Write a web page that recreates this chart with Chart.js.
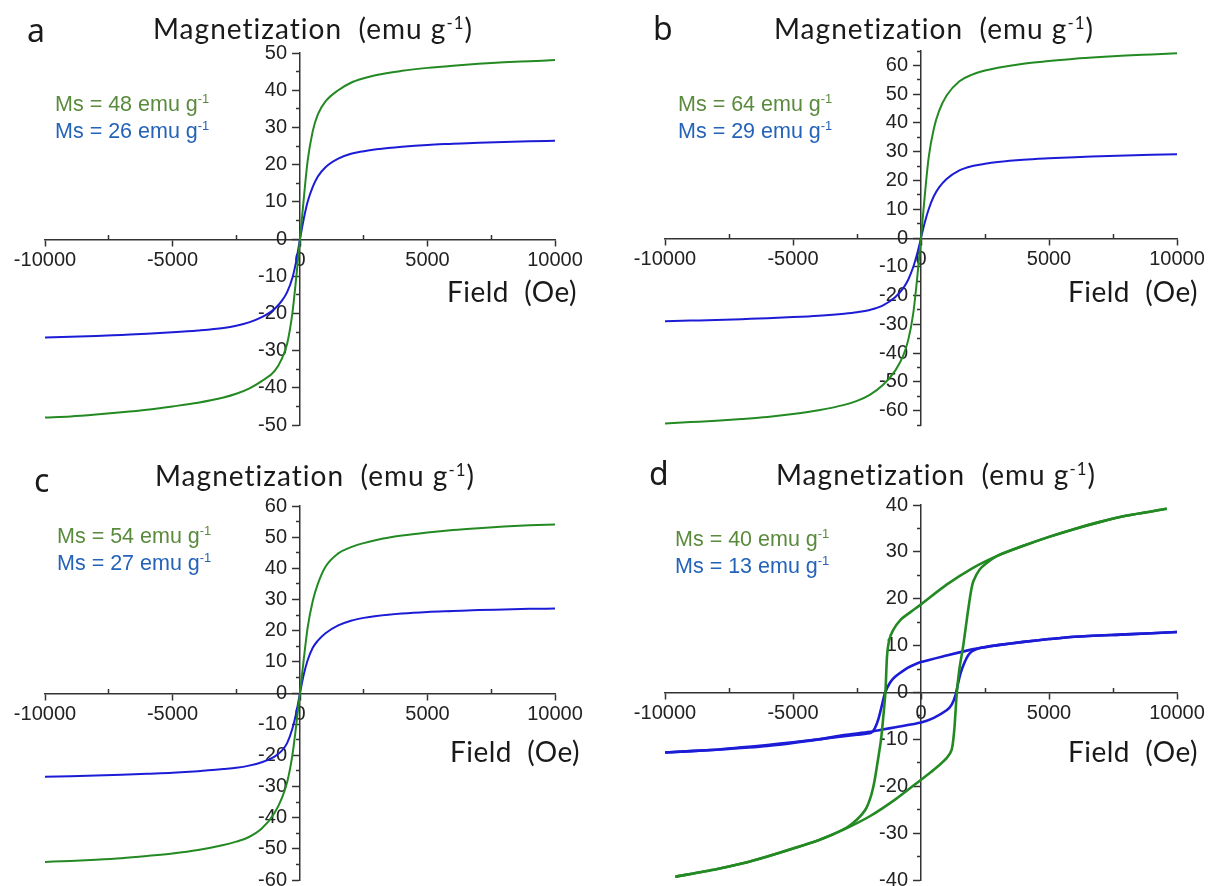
<!DOCTYPE html>
<html><head><meta charset="utf-8">
<script src="https://cdn.jsdelivr.net/npm/chart.js@4.4.1/dist/chart.umd.min.js"></script>
<style>
html,body{margin:0;padding:0;background:#fff;width:1210px;height:886px;overflow:hidden;position:relative}
canvas{position:absolute}
.t{position:absolute;white-space:nowrap;color:#1a1a1a;line-height:1.2;font-variant-ligatures:none;font-feature-settings:"liga" 0}
.lt{font-family:'Noto Sans',sans-serif;font-size:32px}
.title{font-family:Lato,'Noto Sans',sans-serif;font-size:28px}
.fld{font-family:Lato,'Noto Sans',sans-serif;font-size:28px}
.ms{font-family:'Liberation Sans',Arial,sans-serif;font-size:21.5px}
sup{font-size:0.6em;vertical-align:0.6em;line-height:0}
.probe{display:inline-block;width:0;height:0;vertical-align:baseline}
</style></head>
<body>
<script>
// ---------- data ----------
const fieldABC = [-10000,-9000,-8000,-7000,-6000,-5000,-4000,-3000,-2500,-2000,-1500,-1000,-700,-500,-300,-150,0,150,300,500,700,1000,1500,2000,2500,3000,4000,5000,6000,7000,8000,9000,10000];

const aGreen = [-48,-47.7,-47.2,-46.6,-45.9,-45,-44,-42.6,-41.6,-40.2,-38.2,-35.5,-32,-28,-20,-10.5,0,11,21,29,33.5,37,40,42,43.2,44.1,45.2,46,46.6,47.1,47.5,47.8,48.1];
const aBlue  = [-26.5,-26.3,-26.1,-25.8,-25.5,-25.1,-24.6,-23.9,-23.3,-22.4,-21,-18.8,-16.5,-14.2,-10.5,-6,0,5.5,10,14,16.8,19.3,21.6,22.9,23.6,24.1,24.8,25.3,25.6,25.9,26.1,26.3,26.4];

const bGreen = [-64.5,-64,-63.5,-62.9,-62.2,-61.2,-59.9,-58,-56.6,-54.5,-51.2,-46,-41,-35.5,-26,-14,0,15,28,38,44,49.5,54.5,56.8,58.2,59.2,60.6,61.5,62.3,62.9,63.4,63.8,64.2];
const bBlue  = [-28.9,-28.7,-28.5,-28.2,-27.9,-27.5,-27,-26.3,-25.8,-25,-23.5,-20.5,-17.5,-14.5,-10,-5.5,0,5.5,10,14.5,17.5,20.5,23.5,25,25.8,26.4,27.2,27.7,28.1,28.4,28.7,28.9,29.1];

const cGreen = [-54.2,-53.9,-53.5,-53,-52.3,-51.5,-50.4,-48.8,-47.7,-46.2,-43.5,-38.5,-33.5,-28.5,-20,-10.5,0,11,21,29.5,35,40.5,44.8,46.8,48.1,49.1,50.5,51.5,52.3,52.9,53.4,53.8,54.1];
const cBlue  = [-26.9,-26.7,-26.5,-26.2,-25.9,-25.6,-25.1,-24.4,-24,-23.3,-22.2,-20.4,-18.4,-16,-11.5,-6.5,0,6,10.5,14.5,16.8,19.2,21.7,23.2,24.1,24.7,25.5,26,26.3,26.6,26.8,27,27.1];

// panel d: hysteresis loops (descending branch, then ascending branch)
const dGreenDownH = [9600,8000,7000,6000,5000,4000,3000,2000,1000,0,-400,-800,-1100,-1250,-1330,-1390,-1470,-1560,-1700,-1820,-1950,-2150,-2500,-2900,-3500,-4000,-5000,-6000,-7000,-8000,-9600];
const dGreenDownM = [39.2,37.7,36.4,34.9,33.2,31.3,29.2,26.5,23,18.8,17.2,15.5,13.2,11,7.5,0,-5,-10,-15,-19,-22,-24.8,-27.1,-28.8,-30.4,-31.5,-33.3,-35,-36.5,-37.7,-39.3];
const dGreenUpH = [-9600,-8000,-7000,-6000,-5000,-4000,-3000,-2000,-1000,0,500,1000,1200,1300,1350,1400,1500,1650,1800,1950,2050,2300,2630,3000,4000,5000,6000,7000,8000,9600];
const dGreenUpM = [-39.3,-37.7,-36.5,-35,-33.3,-31.5,-29.2,-26.4,-22.8,-18.6,-16.5,-14,-12.2,-8,-4,0,5,10,16,21.5,23.8,26.3,27.9,29.2,31.3,33.2,34.9,36.4,37.7,39.2];
const dBlueDownH = [10000,8000,6000,5000,4000,3000,2300,2000,1000,0,-400,-600,-1000,-1200,-1400,-1500,-1650,-1800,-1950,-2500,-3000,-4000,-5000,-6000,-7000,-8000,-10000];
const dBlueDownM = [12.9,12.4,11.9,11.4,10.8,10.1,9.5,9.2,7.9,6.5,5.6,5,3.4,2.2,0,-2.1,-5.4,-7.6,-8.6,-9,-9.3,-10,-10.6,-11.2,-11.7,-12.2,-12.8];
const dBlueUpH = [-10000,-8000,-6000,-4000,-3000,-2000,-1500,-1000,0,500,1000,1200,1350,1450,1550,1700,1850,2000,2300,3000,4000,5000,6000,8000,10000];
const dBlueUpM = [-12.8,-12.2,-11.4,-10,-9.1,-8.4,-7.9,-7.4,-6.4,-5.4,-3.8,-2.6,-0.5,2,4.2,6.4,8,8.8,9.5,10.1,10.8,11.4,11.9,12.4,12.9];

// tick labels
const xTicks = [-10000,-5000,0,5000,10000];
const xMinorTicks = [-7500,-2500,2500,7500];
const yTicksA = [-50,-40,-30,-20,-10,0,10,20,30,40,50];
const yMinorA = [-45,-35,-25,-15,-5,5,15,25,35,45];
const yTicksB = [-60,-50,-40,-30,-20,-10,0,10,20,30,40,50,60];
const yMinorB = [-65,-55,-45,-35,-25,-15,-5,5,15,25,35,45,55,65];
const yTicksC = [-60,-50,-40,-30,-20,-10,0,10,20,30,40,50,60];
const yMinorC = [-55,-45,-35,-25,-15,-5,5,15,25,35,45,55];
const yTicksD = [-40,-30,-20,-10,0,10,20,30,40];
const yMinorD = [-35,-25,-15,-5,5,15,25,35];
const yLimits = {a:50, b:65, c:60, d:40};
const msGreen = {a:48, b:64, c:54, d:40};
const msBlue  = {a:26, b:29, c:27, d:13};

// ---------- helpers ----------
const GREEN = '#238a23', BLUE = '#1c1cd6', AXIS = '#333';
function pts(xs, ys){ return xs.map((x,i)=>({x, y:ys[i]})); }
function ds(xs, ys, color, w, smooth){
  return {data: pts(xs, ys), borderColor: color, backgroundColor: color, showLine: true,
          pointRadius: 0, borderWidth: w, fill: false,
          tension: smooth ? 0 : 0.25, cubicInterpolationMode: smooth ? 'monotone' : 'default'};
}
function setTicks(list){ return s => { s.ticks = list.map(v => ({value: v})); }; }
function makePanel(left, top, w, h, area, yMax, yMajor, yMinor, datasets){
  const c = document.createElement('canvas');
  c.width = w; c.height = h; c.style.left = left + 'px'; c.style.top = top + 'px';
  document.body.appendChild(c);
  const tickFont = {family: "'Liberation Sans', Arial, sans-serif", size: 20};
  new Chart(c, {
    type: 'scatter',
    data: {datasets},
    options: {
      responsive: false, animation: false, devicePixelRatio: 1,
      layout: {padding: {left: area.l - left, right: left + w - area.r, top: area.t - top, bottom: top + h - area.b}},
      plugins: {legend: {display: false}, tooltip: {enabled: false}},
      scales: {
        x: {type: 'linear', position: 'center', min: -10000, max: 10000, afterBuildTicks: setTicks(xTicks),
            ticks: {callback: v => String(v), font: tickFont, color: '#222', padding: 3, maxRotation: 0, autoSkip: false},
            grid: {drawOnChartArea: false, drawTicks: true, tickLength: 6, tickColor: AXIS, tickWidth: 1.5},
            border: {display: true, color: AXIS, width: 1.5}},
        xm: {type: 'linear', axis: 'x', position: 'center', min: -10000, max: 10000, afterBuildTicks: setTicks(xMinorTicks),
            ticks: {display: false},
            grid: {drawOnChartArea: false, drawTicks: true, tickLength: -5, tickWidth: 1.5, tickColor: AXIS},
            border: {display: false}},
        y: {type: 'linear', position: 'center', min: -yMax, max: yMax, afterBuildTicks: setTicks(yMajor),
            ticks: {callback: v => String(v), font: tickFont, color: '#222', padding: 6, autoSkip: false},
            grid: {drawOnChartArea: false, drawTicks: true, tickLength: 7, tickColor: AXIS, tickWidth: 1.5},
            border: {display: true, color: AXIS, width: 1.5}},
        ym: {type: 'linear', axis: 'y', position: 'center', min: -yMax, max: yMax, afterBuildTicks: setTicks(yMinor),
            ticks: {display: false},
            grid: {drawOnChartArea: false, drawTicks: true, tickLength: 4, tickWidth: 1.5, tickColor: AXIS},
            border: {display: false}}
      }
    }
  });
}
function place(html, x, base, cls, color, targetW){
  const d = document.createElement('div');
  d.className = 't ' + cls;
  d.innerHTML = html + '<span class="probe"></span>';
  d.style.left = x + 'px'; d.style.top = '0px';
  if (color) d.style.color = color;
  document.body.appendChild(d);
  if (targetW) {
    const w = d.getBoundingClientRect().width;
    const n = d.textContent.length;
    d.style.letterSpacing = ((targetW - w) / n) + 'px';
  }
  const pb = d.querySelector('.probe').getBoundingClientRect().top;
  d.style.top = (base - pb) + 'px';
}

// ---------- charts ----------
makePanel(0, 0, 605, 443, {l:45, r:555, t:53, b:425}, yLimits.a, yTicksA, yMinorA,
  [ds(fieldABC, aGreen, GREEN, 2, true), ds(fieldABC, aBlue, BLUE, 2, true)]);
makePanel(605, 0, 605, 443, {l:665, r:1177, t:51, b:427}, yLimits.b, yTicksB, yMinorB,
  [ds(fieldABC, bGreen, GREEN, 2, true), ds(fieldABC, bBlue, BLUE, 2, true)]);
makePanel(0, 443, 605, 470, {l:45, r:555, t:506, b:880}, yLimits.c, yTicksC, yMinorC,
  [ds(fieldABC, cGreen, GREEN, 2, true), ds(fieldABC, cBlue, BLUE, 2, true)]);
makePanel(605, 443, 605, 470, {l:665, r:1177, t:505, b:880}, yLimits.d, yTicksD, yMinorD,
  [ds(dGreenDownH, dGreenDownM, GREEN, 2.6, false), ds(dGreenUpH, dGreenUpM, GREEN, 2.6, false),
   ds(dBlueDownH, dBlueDownM, BLUE, 2.6, false), ds(dBlueUpH, dBlueUpM, BLUE, 2.6, false)]);

// ---------- texts ----------
const TITLE = 'Magnetization&nbsp; (emu g<sup>-1</sup>)';
const FIELD = 'Field&nbsp; (Oe)';
const GT = '#5a8a3c', BT = '#2463b8';
const panels = [
  {k:'a', lx:27,  lb:42,  tx:153, tb:39,  fx:447,  fb:302, mx:55,  mb:111},
  {k:'b', lx:653, lb:40,  tx:774, tb:39,  fx:1068, fb:302, mx:678, mb:111},
  {k:'c', lx:34,  lb:492, tx:155, tb:486, fx:450,  fb:762, mx:57,  mb:543},
  {k:'d', lx:649, lb:485, tx:776, tb:485, fx:1068, fb:762, mx:675, mb:546}
];
panels.forEach(p => {
  place(p.k, p.lx, p.lb, 'lt');
  place(TITLE, p.tx, p.tb, 'title', null, 320);
  place(FIELD, p.fx, p.fb, 'fld', null, 130);
  place('Ms = ' + msGreen[p.k] + ' emu g<sup>-1</sup>', p.mx, p.mb, 'ms', GT);
  place('Ms = ' + msBlue[p.k] + ' emu g<sup>-1</sup>', p.mx, p.mb + 27, 'ms', BT);
});
</script>
</body></html>
